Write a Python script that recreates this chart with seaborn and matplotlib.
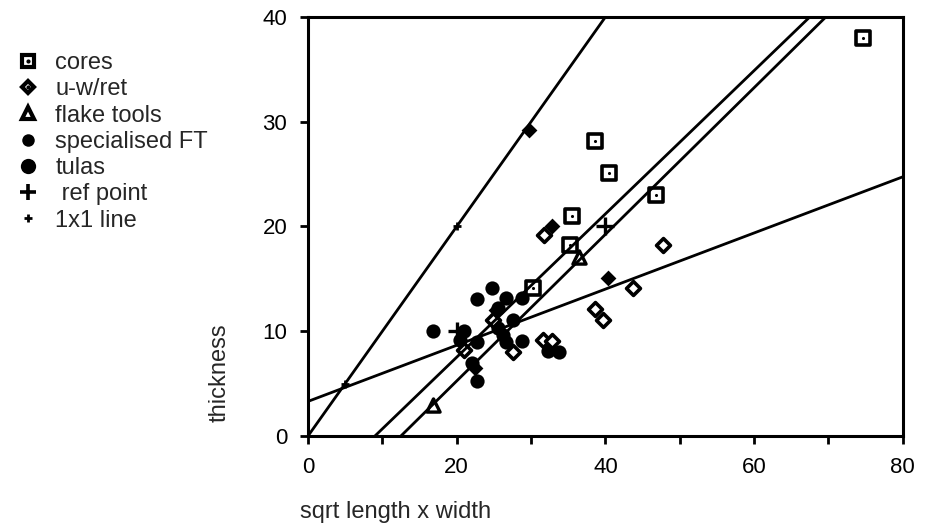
import numpy as np
import pandas as pd
import seaborn as sns
import matplotlib.pyplot as plt
from matplotlib.lines import Line2D

# values (x = sqrt length x width, y = thickness)
cores_x = [74.7, 38.6, 40.5, 46.8, 35.5, 35.3, 30.2]
cores_y = [38.0, 28.2, 25.1, 23.0, 21.0, 18.2, 14.1]

uwret_x = [31.8, 47.7, 43.7, 38.6, 39.7, 31.6, 32.8, 27.6, 21.0, 24.9]
uwret_y = [19.2, 18.2, 14.1, 12.1, 11.1, 9.2, 9.1, 8.0, 8.2, 11.1]

flake_x = [16.8, 36.4]
flake_y = [3.0, 17.1]

spec_x = [29.7, 32.8, 40.3, 22.4, 25.3]
spec_y = [29.2, 20.0, 15.1, 6.5, 12.0]

tulas_x = [16.8, 24.7, 22.7, 26.6, 28.8, 27.6, 21.0, 22.7, 20.5, 26.2,
           26.6, 28.8, 22.0, 22.7, 25.5, 32.3, 33.7, 25.6]
tulas_y = [10.0, 14.1, 13.1, 13.2, 13.2, 11.1, 10.0, 9.0, 9.2, 9.6,
           9.0, 9.1, 7.0, 5.2, 10.3, 8.1, 8.0, 12.2]

ref_x = [20, 40]
ref_y = [10, 20]

one_x = [5, 20]
one_y = [5, 20]

# fitted lines: slope, intercept
line_slopes = [1.0, 0.268, 0.684, 0.70]
line_intercepts = [0.0, 3.3, -6.16, -8.75]

sns.set_style("ticks")
plt.rcParams['font.family'] = ['Liberation Sans', 'DejaVu Sans']

fig = plt.figure(figsize=(9.25, 5.31), dpi=100)
ax = fig.add_axes([0.333, 0.179, 0.643, 0.789])

# lines across the whole x range, clipped by the axes
xs = np.array([0, 80])
for m, b in zip(line_slopes, line_intercepts):
    sns.lineplot(x=xs, y=m * xs + b, ax=ax, color='black', linewidth=2)

# tulas
sns.scatterplot(x=tulas_x, y=tulas_y, ax=ax, marker='o', s=105,
                color='black', edgecolor='black', linewidth=0)
# specialised FT
sns.scatterplot(x=spec_x, y=spec_y, ax=ax, marker='D', s=65,
                color='black', edgecolor='black', linewidth=0)
# cores: open square with centre dot
sns.scatterplot(x=cores_x, y=cores_y, ax=ax, marker='s', s=95,
                facecolor='white', edgecolor='black', linewidth=2.6)
sns.scatterplot(x=cores_x, y=cores_y, ax=ax, marker='o', s=5,
                color='black', linewidth=0)
# u-w/ret: open diamond with centre dot
sns.scatterplot(x=uwret_x, y=uwret_y, ax=ax, marker='D', s=50,
                facecolor='white', edgecolor='black', linewidth=2.6)
# flake tools
sns.scatterplot(x=flake_x, y=flake_y, ax=ax, marker='^', s=90,
                facecolor='white', edgecolor='black', linewidth=2.4)
# ref point
sns.scatterplot(x=ref_x, y=ref_y, ax=ax, marker='+', s=150,
                color='black', linewidth=2.4)
# 1x1 line
sns.scatterplot(x=one_x, y=one_y, ax=ax, marker='+', s=40,
                color='black', linewidth=2)

ax.set_xlim(0, 80)
ax.set_ylim(0, 40)
ax.set_xticks([0, 20, 40, 60, 80])
ax.set_xticks([10, 30, 50, 70], minor=True)
ax.set_yticks([0, 10, 20, 30, 40])
ax.tick_params(axis='both', which='both', direction='out', width=2,
               length=6, colors='black', labelsize=16)
ax.tick_params(axis='x', which='major', pad=9)
ax.tick_params(axis='y', which='major', pad=9)
for sp in ax.spines.values():
    sp.set_linewidth(2.2)
    sp.set_color('black')

ax.set_xlabel('sqrt length x width', fontsize=17, ha='left')
ax.xaxis.set_label_coords(-0.013, -0.155)
ax.set_ylabel('thickness', fontsize=17)
ax.yaxis.set_label_coords(-0.13, 0.15)

# legend on the left, outside the plot
def mk(marker, size, face, lw):
    return Line2D([], [], linestyle='none', marker=marker, markersize=size,
                  markerfacecolor=face, markeredgecolor='black',
                  markeredgewidth=lw)

dot = Line2D([], [], linestyle='none', marker='o', markersize=2,
             color='black')
handles = [(mk('s', 8, 'white', 3), dot),
           (mk('D', 6.5, 'white', 3), dot),
           mk('^', 8, 'white', 3),
           mk('o', 9, 'black', 0),
           mk('o', 11, 'black', 0),
           mk('+', 11, 'black', 2.6),
           mk('+', 6, 'black', 2)]
labels = ['cores', 'u-w/ret', 'flake tools', 'specialised FT', 'tulas',
          ' ref point', '1x1 line']
fig.legend(handles, labels, loc='upper left', bbox_to_anchor=(0.0, 0.933),
           frameon=False, fontsize=17, handlelength=1.0, handletextpad=0.65,
           labelspacing=0.18, borderaxespad=0.3)

fig.savefig('out.png', dpi=100)
